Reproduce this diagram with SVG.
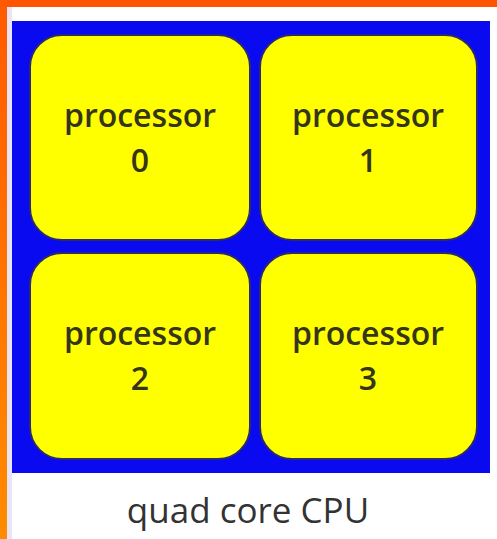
<svg xmlns="http://www.w3.org/2000/svg" width="497" height="539" viewBox="0 0 497 539">
  <defs>
    <linearGradient id="edgeLeft" x1="0" y1="0" x2="0" y2="1">
      <stop offset="0" stop-color="#ff5a00"/>
      <stop offset="1" stop-color="#ff8c00"/>
    </linearGradient>
    <style>
      .core { fill: #ffff00; stroke: #2a2a70; stroke-width: 2; }
      .label { font-family: "Open Sans", "Liberation Sans", sans-serif; font-size: 32px; font-weight: 600; fill: #35351a; text-anchor: middle; }
      .caption { font-family: "Open Sans", "Liberation Sans", sans-serif; font-size: 35px; font-weight: 500; fill: #333333; text-anchor: middle; }
    </style>
  </defs>

  <!-- page background and orange frame edges -->
  <rect x="0" y="0" width="497" height="539" fill="#ffffff"/>
  <rect x="0" y="0" width="497" height="7" fill="#ff5500"/>
  <rect x="0" y="0" width="7" height="539" fill="url(#edgeLeft)"/>
  <rect x="7" y="7" width="5" height="532" fill="#e8e6f6"/>

  <!-- CPU die -->
  <g id="cpu">
    <rect x="12" y="21" width="478" height="452" fill="#0a0af0"/>
  </g>

  <g id="processor0">
    <rect class="core" x="30" y="35" width="220" height="205" rx="32" ry="32"/>
    <text class="label" x="140" y="127">processor</text>
    <text class="label" x="140" y="172">0</text>
  </g>
  <g id="processor1">
    <rect class="core" x="260" y="35" width="217" height="205" rx="32" ry="32"/>
    <text class="label" x="368" y="127">processor</text>
    <text class="label" x="368" y="172">1</text>
  </g>
  <g id="processor2">
    <rect class="core" x="30" y="253" width="220" height="206" rx="32" ry="32"/>
    <text class="label" x="140" y="345">processor</text>
    <text class="label" x="140" y="390">2</text>
  </g>
  <g id="processor3">
    <rect class="core" x="260" y="253" width="217" height="206" rx="32" ry="32"/>
    <text class="label" x="368" y="345">processor</text>
    <text class="label" x="368" y="390">3</text>
  </g>

  <g id="connectors"/>

  <text class="caption" x="248" y="523">quad core CPU</text>
</svg>
